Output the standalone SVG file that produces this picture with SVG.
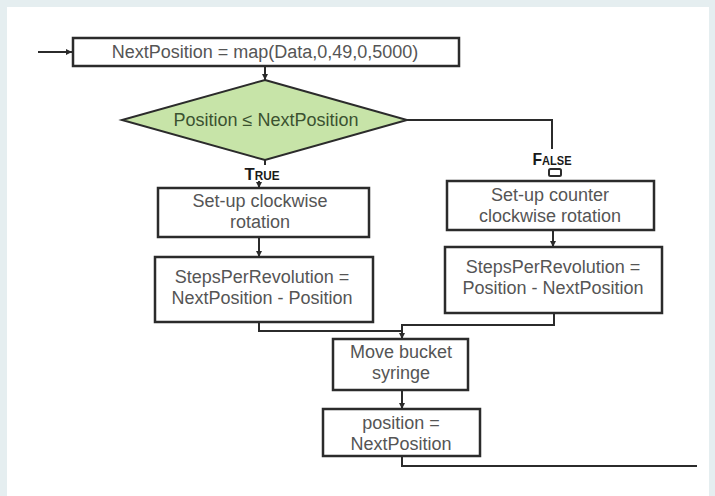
<svg xmlns="http://www.w3.org/2000/svg" width="715" height="496" viewBox="0 0 715 496">
<defs>
<marker id="arr" markerUnits="userSpaceOnUse" markerWidth="7" markerHeight="7" refX="6" refY="3.5" orient="auto">
<path d="M0,0.5 L6,3.5 L0,6.5 z" fill="#2a2a2a"/>
</marker>
</defs>
<style>
.box{fill:#ffffff;stroke:#2b2b2b;stroke-width:2.5}
.dia{fill:#c7e4a8;stroke:#2b2b2b;stroke-width:2}
.t{font-family:"Liberation Sans",Arial,sans-serif;font-size:18px;fill:#555555;text-anchor:middle}
.dt{font-family:"Liberation Sans",Arial,sans-serif;font-size:18px;fill:#3b5230;text-anchor:middle}
.lbl{font-family:"Liberation Sans",Arial,sans-serif;font-size:17px;font-weight:bold;font-variant:small-caps;fill:#1a1a1a;text-anchor:middle}
.c{fill:none;stroke:#2b2b2b;stroke-width:2}
</style>
<rect x="0" y="0" width="715" height="496" fill="#e5eef0"/>
<rect x="7" y="7" width="702" height="489" fill="#ffffff"/>

<g id="connectors">
<path class="c" d="M38,52 H72" marker-end="url(#arr)"/>
<path class="c" d="M265,66 V80" marker-end="url(#arr)"/>
<path class="c" d="M265,160 V165"/>
<path class="c" d="M259,181 V188" marker-end="url(#arr)"/>
<path class="c" d="M407,120 H552 V149"/>
<rect x="549" y="169" width="12" height="7" rx="1.5" fill="none" stroke="#2b2b2b" stroke-width="2"/>
<path class="c" d="M259,237 V257" marker-end="url(#arr)"/>
<path class="c" d="M553,230 V247" marker-end="url(#arr)"/>
<path class="c" d="M259,322 V331 H402"/>
<path class="c" d="M554,313 V325 H402 V339" marker-end="url(#arr)"/>
<path class="c" d="M402,390 V409" marker-end="url(#arr)"/>
<path class="c" d="M402,456 V466 H697"/>
<text class="lbl" x="262" y="180" textLength="35" lengthAdjust="spacingAndGlyphs">True</text>
<text class="lbl" x="552" y="165" textLength="39" lengthAdjust="spacingAndGlyphs">False</text>
</g>

<g id="n_map">
<rect class="box" x="73" y="38" width="386" height="28"/>
<text class="t" x="265" y="58">NextPosition = map(Data,0,49,0,5000)</text>
</g>

<g id="n_decision">
<polygon class="dia" points="265,80 407,120 265,160 122,120"/>
<text class="dt" x="266" y="126">Position ≤ NextPosition</text>
</g>

<g id="n_cw">
<rect class="box" x="158" y="188" width="211" height="49"/>
<text class="t" x="260" y="207">Set-up clockwise</text>
<text class="t" x="260" y="228">rotation</text>
</g>

<g id="n_steps_cw">
<rect class="box" x="155" y="257" width="218" height="65"/>
<text class="t" x="262" y="283">StepsPerRevolution =</text>
<text class="t" x="262" y="304">NextPosition - Position</text>
</g>

<g id="n_ccw">
<rect class="box" x="447" y="181" width="207" height="49"/>
<text class="t" x="550" y="201">Set-up counter</text>
<text class="t" x="550" y="222">clockwise rotation</text>
</g>

<g id="n_steps_ccw">
<rect class="box" x="445" y="247" width="217" height="66"/>
<text class="t" x="553" y="273">StepsPerRevolution =</text>
<text class="t" x="553" y="294">Position - NextPosition</text>
</g>

<g id="n_move">
<rect class="box" x="333" y="339" width="135" height="51"/>
<text class="t" x="401" y="358">Move bucket</text>
<text class="t" x="401" y="379">syringe</text>
</g>

<g id="n_position">
<rect class="box" x="323" y="409" width="157" height="47"/>
<text class="t" x="401" y="429">position =</text>
<text class="t" x="401" y="450">NextPosition</text>
</g>
</svg>
